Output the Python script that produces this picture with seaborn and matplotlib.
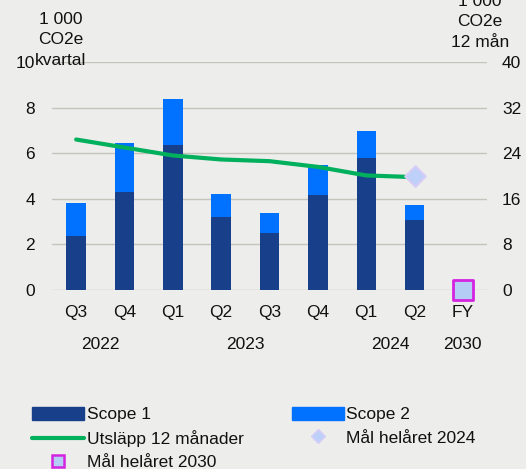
import matplotlib
matplotlib.use("Agg")
import matplotlib.pyplot as plt
import matplotlib.transforms as mtransforms
from matplotlib.patches import Patch
from matplotlib.lines import Line2D
import seaborn as sns
import pandas as pd
import numpy as np

# ---- data ----
quarters = ["Q3", "Q4", "Q1", "Q2", "Q3", "Q4", "Q1", "Q2", "FY"]
years = ["2022", "2022", "2023", "2023", "2023", "2023", "2024", "2024", "2030"]
scope1 = [2.39, 4.30, 6.36, 3.20, 2.51, 4.15, 5.77, 3.07, np.nan]
scope2 = [1.41, 2.16, 2.02, 1.00, 0.85, 1.34, 1.19, 0.67, np.nan]
rolling12 = [26.4, 25.0, 23.6, 22.9, 22.6, 21.6, 20.1, 19.8]
target_2024 = 20.0
target_2030 = 0.0
year_labels = ["2022", "2023", "2024", "2030"]

BG = "#EDEDEB"
C_S1 = "#173F8A"
C_S2 = "#0072FF"
C_LINE = "#00B05C"
GRID = "#C4C4BC"

sns.set_theme(style="white")
plt.rcParams["font.family"] = ["Liberation Sans", "DejaVu Sans"]
FS = 12.5
PX = 72 / 100  # points per pixel

keys = [f"{q} {y}" for q, y in zip(quarters, years)]
df = pd.DataFrame({"key": keys, "s1": scope1, "s2": scope2})
df["total"] = df["s1"] + df["s2"]

fig = plt.figure(figsize=(5.26, 4.69), dpi=100, facecolor=BG)
ax = fig.add_axes([52 / 526, 1 - 290 / 469, 435 / 526, 228 / 469])
ax.set_facecolor(BG)

sns.barplot(data=df, x="key", y="total", order=keys, color=C_S2, width=0.4,
            saturation=1, linewidth=0, ax=ax)
sns.barplot(data=df, x="key", y="s1", order=keys, color=C_S1, width=0.4,
            saturation=1, linewidth=0, ax=ax)

ax.set_xlim(-0.5, len(keys) - 0.5)
ax.set_ylim(0, 10)
ax.set_yticks([0, 2, 4, 6, 8, 10])
ax.set_yticklabels(["0", "2", "4", "6", "8", "10"], fontsize=FS, color="#111111")
ax.set_xticks(range(len(keys)))
ax.set_xticklabels(quarters, fontsize=FS, color="#111111")
ax.tick_params(axis="x", length=0, pad=15 * PX)
ax.tick_params(axis="y", length=0, pad=17 * PX)
ax.set_xlabel("")
ax.set_ylabel("")
for s in ax.spines.values():
    s.set_visible(False)
ax.grid(axis="y", color=GRID, linewidth=1.0)
ax.set_axisbelow(True)

# year labels centred under their quarter groups
trans = mtransforms.blended_transform_factory(ax.transData, ax.transAxes)
for yl in year_labels:
    idx = [i for i, y in enumerate(years) if y == yl]
    ax.text(np.mean(idx), -54 / 228, yl, transform=trans, ha="center", va="center",
            fontsize=FS, color="#111111")

# right axis: rolling 12 months + targets
ax2 = ax.twinx()
line_df = pd.DataFrame({"x": range(len(rolling12)), "y": rolling12})
sns.lineplot(data=line_df, x="x", y="y", color=C_LINE, linewidth=3, ax=ax2,
             legend=False)
ax2.scatter([len(rolling12) - 1], [target_2024], marker="D", s=110,
            facecolor="#BDD0F8", edgecolor="#D8CCF8", linewidth=1.5, zorder=5)
ax2.scatter([len(keys) - 1], [target_2030], marker="s", s=190,
            facecolor="#B3CDF5", edgecolor="#D424E0", linewidth=2, zorder=5,
            clip_on=False)
ax2.set_xlabel("")
ax2.set_ylabel("")
ax2.set_xlim(-0.5, len(keys) - 0.5)
ax2.set_ylim(0, 40)
ax2.set_yticks([0, 8, 16, 24, 32, 40])
ax2.set_yticklabels(["0", "8", "16", "24", "32", "40"], fontsize=FS, color="#111111")
ax2.tick_params(axis="y", which="both", left=False, right=True, labelleft=False,
                labelright=True, length=0, pad=15 * PX)
for s in ax2.spines.values():
    s.set_visible(False)
ax2.grid(False)

# axis titles
fig.text(61 / 526, 1 - 12 / 469, "1 000\nCO2e\nkvartal", ha="center", va="top",
         fontsize=FS, color="#111111", linespacing=1.45)
fig.text(480 / 526, 1 + 6 / 469, "1 000\nCO2e\n12 mån", ha="center", va="top",
         fontsize=FS, color="#111111", linespacing=1.45)

handles = [
    Patch(facecolor=C_S1, edgecolor=C_S1),
    Line2D([0], [0], color=C_LINE, linewidth=3),
    Line2D([0], [0], marker="s", linestyle="none", markersize=8,
           markerfacecolor="#B3CDF5", markeredgecolor="#D424E0", markeredgewidth=1.8),
    Patch(facecolor=C_S2, edgecolor=C_S2),
    Line2D([0], [0], marker="D", linestyle="none", markersize=7,
           markerfacecolor="#BDD0F8", markeredgecolor="#D8CCF8"),
]
labels = ["Scope 1", "Utsläpp 12 månader", "Mål helåret 2030", "Scope 2",
          "Mål helåret 2024"]
leg = fig.legend(handles, labels, ncol=2, loc="upper left",
                 bbox_to_anchor=(25 / 526, 1 - 400 / 469), frameon=False,
                 fontsize=FS, handlelength=3.0, handleheight=0.75,
                 handletextpad=0.15, columnspacing=2.77, labelspacing=0.45,
                 borderaxespad=0)
for t in leg.get_texts():
    t.set_color("#111111")

fig.savefig("out.png", dpi=100, facecolor=BG)
